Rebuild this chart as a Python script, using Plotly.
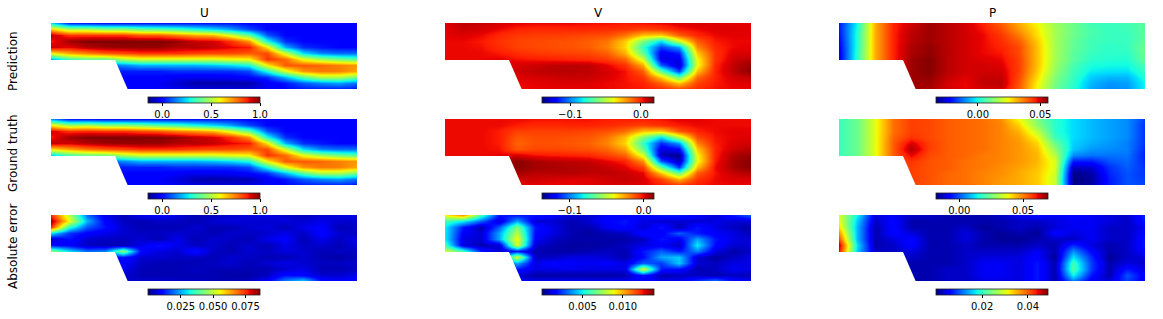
import plotly.graph_objects as go

W, H = 1163, 319

# channel geometry, in px-like domain units
GRID_X = [0, 18, 36, 54, 72, 90, 108, 126, 144, 162, 180, 198, 216, 234, 252, 270, 288, 306]
GRID_Y = [0, 6, 12, 18, 24, 30, 36, 42, 48, 54, 60, 66]
STEP_X = [-2, 64, 77.5, -2, -2]
STEP_Y = [37, 37, 68, 68, 37]

COLUMN_TITLES = ["U", "V", "P"]
ROW_TITLES = ["Prediction", "Ground truth", "Absolute error"]
ROW_TITLE_CENTERS = [61, 153, 247]

U_PRED = [
 [.25,.05,.03,.02,.02,.02,.02,.02,.02,.02,.02,0,0,0,0,0,0,0],
 [.65,.5,.5,.45,.45,.4,.38,.35,.3,.25,.18,.08,0,0,0,0,0,0],
 [.95,.85,.85,.85,.85,.8,.8,.75,.7,.68,.55,.4,.1,0,0,0,0,0],
 [.88,.97,1,1,1,1,1,.98,.93,.92,.85,.72,.3,.05,0,0,0,0],
 [.93,.9,.95,.97,.98,.98,.98,.95,.95,.93,.9,.88,.62,.2,.05,.02,0,0],
 [.6,.7,.75,.8,.82,.85,.85,.85,.83,.82,.82,.8,.82,.55,.25,.15,.12,.12],
 [.2,.35,.4,.4,.5,.55,.55,.55,.55,.55,.58,.6,.85,.78,.58,.48,.42,.38],
 [.08,.1,.12,.12,.15,.2,.2,.2,.2,.22,.25,.3,.6,.8,.8,.78,.75,.72],
 [.03,.02,.02,.02,.03,.03,.03,.05,.05,.05,.05,.08,.3,.55,.72,.76,.75,.7],
 [0,0,0,0,0,0,0,-.03,-.03,-.03,-.02,0,.05,.2,.38,.5,.5,.42],
 [0,0,0,0,0,0,-.03,-.06,-.1,-.1,-.1,-.1,-.03,.02,.1,.15,.18,.12],
 [0,0,0,0,0,0,-.02,-.03,-.05,-.05,-.05,-.05,-.02,0,.02,.03,.03,.02],
]
U_TRUE = [
 [.18,.04,.03,.02,.02,.02,.02,.02,.02,.02,.02,0,0,0,0,0,0,0],
 [.6,.48,.5,.45,.45,.42,.38,.35,.3,.25,.18,.08,0,0,0,0,0,0],
 [.92,.85,.86,.85,.85,.82,.8,.75,.72,.68,.55,.4,.1,0,0,0,0,0],
 [.88,.97,1,1,1,1,1,.98,.94,.92,.85,.72,.3,.05,0,0,0,0],
 [.94,.92,.95,.97,.98,.98,.98,.95,.95,.93,.9,.88,.62,.2,.05,.02,0,0],
 [.62,.7,.76,.8,.82,.85,.85,.85,.83,.82,.82,.8,.82,.55,.25,.15,.12,.12],
 [.24,.36,.41,.42,.5,.55,.55,.55,.55,.55,.58,.6,.85,.78,.58,.48,.42,.38],
 [.09,.1,.12,.12,.15,.2,.2,.2,.2,.22,.25,.3,.6,.8,.8,.78,.75,.72],
 [.03,.02,.02,.02,.03,.03,.03,.05,.05,.05,.05,.08,.3,.55,.72,.76,.75,.7],
 [0,0,0,0,0,0,0,-.02,-.03,-.03,-.02,0,.05,.2,.38,.5,.5,.42],
 [0,0,0,0,0,0,-.02,-.05,-.09,-.1,-.09,-.09,-.03,.02,.1,.15,.18,.12],
 [0,0,0,0,0,0,-.01,-.03,-.05,-.05,-.05,-.04,-.02,0,.02,.03,.03,.02],
]
U_ERR = [
 [.075,.05,.02,.008,.004,.008,.01,.007,.004,.005,.006,.007,.008,.006,.005,.006,.007,.008],
 [.084,.055,.026,.01,.005,.004,.005,.005,.004,.006,.007,.006,.006,.007,.006,.008,.006,.006],
 [.075,.035,.018,.012,.006,.004,.004,.004,.006,.004,.004,.006,.007,.004,.008,.01,.004,.006],
 [.03,.015,.01,.008,.006,.005,.005,.006,.005,.004,.006,.005,.006,.008,.005,.011,.006,.005],
 [.006,.012,.006,.005,.005,.006,.004,.008,.004,.006,.005,.004,.008,.01,.004,.008,.005,.008],
 [.012,.01,.005,.004,.004,.008,.012,.008,.005,.006,.004,.006,.004,.008,.005,.006,.004,.007],
 [.045,.03,.02,.022,.045,.01,.007,.006,.012,.005,.004,.006,.005,.007,.006,.004,.005,.005],
 [.02,.015,.01,.01,.012,.006,.006,.005,.005,.004,.006,.005,.004,.004,.006,.004,.003,.005],
 [.01,.01,.01,.01,.01,.005,.004,.004,.004,.005,.006,.004,.006,.008,.006,.005,.005,.006],
 [.008,.008,.008,.008,.008,.004,.004,.004,.005,.004,.004,.004,.004,.006,.008,.004,.004,.005],
 [.006,.006,.006,.006,.006,.004,.004,.004,.004,.004,.003,.003,.005,.012,.01,.006,.006,.008],
 [.006,.006,.006,.006,.006,.006,.006,.005,.005,.004,.004,.005,.01,.022,.03,.012,.01,.012],
]
V_PRED = [
 [.006,.01,.009,.007,.005,.004,.004,.004,.003,.003,.002,.003,.004,.006,.007,.006,.005,.005],
 [.005,.009,.007,.004,.001,0,0,0,0,-.001,-.002,-.005,-.003,.002,.004,.006,.006,.005],
 [.005,.006,.004,0,-.003,-.004,-.004,-.005,-.006,-.007,-.014,-.028,-.03,-.01,0,.004,.005,.005],
 [.004,.004,.002,-.002,-.005,-.006,-.007,-.008,-.01,-.014,-.03,-.06,-.085,-.045,-.01,.002,.004,.004],
 [.004,.004,.003,-.001,-.005,-.006,-.007,-.008,-.01,-.016,-.032,-.075,-.11,-.095,-.018,0,.004,.005],
 [.004,.004,.004,.002,-.001,-.003,-.004,-.005,-.006,-.01,-.025,-.065,-.125,-.115,-.03,-.002,.006,.007],
 [.004,.004,.004,.005,.003,.002,.001,0,-.001,-.004,-.012,-.045,-.125,-.125,-.038,-.002,.008,.011],
 [.004,.004,.004,.006,.007,.008,.01,.011,.01,.005,-.002,-.024,-.105,-.13,-.04,0,.01,.016],
 [.004,.004,.004,.006,.008,.01,.011,.011,.01,.007,.003,-.01,-.065,-.11,-.028,.001,.01,.018],
 [.004,.004,.004,.005,.006,.007,.008,.009,.009,.006,.003,-.003,-.03,-.065,-.012,.001,.007,.01],
 [.004,.004,.004,.004,.004,.005,.006,.006,.006,.004,.003,.001,-.01,-.028,-.005,.002,.005,.006],
 [.004,.004,.004,.004,.004,.004,.005,.005,.005,.004,.003,.002,-.001,-.006,-.001,.003,.004,.004],
]
V_TRUE = [
 [0,0,0,0,0,-.001,-.001,-.001,-.001,-.002,-.002,-.002,-.001,.001,.001,0,0,0],
 [0,0,0,0,-.002,-.004,-.004,-.003,-.003,-.004,-.006,-.008,-.005,-.002,0,0,0,0],
 [0,0,0,-.002,-.008,-.008,-.008,-.008,-.009,-.011,-.016,-.03,-.032,-.012,-.003,0,.001,.001],
 [0,0,0,-.002,-.012,-.01,-.01,-.011,-.012,-.017,-.03,-.06,-.085,-.05,-.01,-.001,.001,.002],
 [0,0,0,-.002,-.014,-.011,-.011,-.012,-.014,-.02,-.034,-.075,-.112,-.095,-.02,-.002,.002,.004],
 [0,0,0,-.001,-.012,-.009,-.009,-.01,-.011,-.015,-.025,-.065,-.125,-.118,-.032,-.003,.004,.007],
 [0,0,0,.001,.003,-.001,-.002,-.003,-.004,-.008,-.014,-.045,-.13,-.135,-.04,-.003,.008,.012],
 [0,0,0,.007,.013,.009,.007,.006,.005,.001,-.003,-.022,-.105,-.13,-.042,-.002,.009,.014],
 [0,0,0,.006,.013,.01,.009,.008,.007,.005,.001,-.008,-.065,-.11,-.03,0,.009,.014],
 [0,0,0,.004,.009,.007,.007,.007,.006,.006,.005,.001,-.03,-.065,-.013,-.001,.005,.008],
 [0,0,0,.002,.004,.004,.003,.002,.002,.004,.005,.003,-.008,-.028,-.006,0,.002,.003],
 [0,0,0,.001,.001,.001,0,0,.001,.002,.003,.001,-.002,-.006,-.002,0,0,0],
]
V_ERR = [
 [.009,.0105,.006,.002,.002,.002,.0015,.001,.001,.0015,.0015,.0015,.002,.002,.0015,.001,.002,.003],
 [.006,.005,.003,.001,.004,.001,.001,.0006,.001,.0017,.002,.0012,.001,.001,.001,.0012,.001,.001],
 [.005,.002,.0005,.003,.007,.002,.0012,.0006,.0006,.0014,.0018,.001,.002,.0006,.002,.0012,.0008,.0005],
 [.005,.0015,.001,.004,.008,.0018,.0012,.0006,.0004,.0006,.0008,.0018,.0015,.003,.002,.0015,.0012,.0006],
 [.005,.0012,.001,.004,.009,.0015,.0008,.0005,.0005,.0005,.0005,.0008,.002,.0014,.004,.002,.0012,.001],
 [.006,.0012,.0006,.001,.0085,.001,.0006,.0004,.0004,.0005,.0008,.0012,.0015,.0008,.005,.0018,.001,.001],
 [.0085,.006,.002,.001,.002,.0006,.0005,.0005,.0006,.0008,.0006,.002,.003,.002,.0035,.0012,.0005,.0008],
 [.002,.001,.001,.002,.0085,.0008,.0008,.0012,.0012,.001,.0006,.0018,.004,.0045,.001,.0004,.0008,.0012],
 [.001,.001,.001,.002,.004,.0012,.0018,.0015,.0014,.0016,.0012,.003,.0025,.0045,.001,.0008,.0012,.0012],
 [.001,.001,.001,.001,.002,.0012,.0012,.0013,.0012,.0012,.0012,.0085,.002,.0018,.0006,.0008,.0014,.0012],
 [.001,.001,.001,.001,.001,.0005,.0005,.0005,.0005,.0005,.0006,.002,.0006,.0008,.0008,.0006,.0008,.0006],
 [.001,.001,.001,.001,.0015,.0014,.0014,.0014,.0014,.0014,.0014,.0016,.0014,.0014,.0025,.0035,.0018,.0015],
]
P_PRED = [
 [-.02,0,.032,.046,.05,.054,.052,.05,.046,.04,.032,.024,.015,.01,.005,.004,.005,.008],
 [-.02,.001,.032,.046,.051,.054,.052,.05,.047,.042,.034,.026,.016,.01,.006,.004,.005,.008],
 [-.021,.002,.032,.046,.052,.054,.052,.05,.048,.044,.037,.027,.016,.01,.006,.004,.004,.008],
 [-.022,.002,.032,.046,.052,.054,.052,.05,.048,.045,.04,.029,.016,.009,.005,.004,.004,.009],
 [-.023,.002,.032,.046,.053,.055,.052,.05,.048,.046,.042,.03,.016,.009,.005,.003,.004,.01],
 [-.024,.003,.032,.046,.053,.055,.052,.05,.048,.047,.042,.03,.016,.008,.004,.003,.003,.01],
 [-.024,.003,.032,.046,.054,.056,.052,.05,.049,.048,.043,.03,.016,.008,.003,.002,.002,.009],
 [-.024,.003,.032,.046,.054,.056,.052,.05,.05,.049,.043,.03,.015,.006,.001,0,0,.006],
 [-.024,.003,.032,.046,.054,.056,.052,.05,.05,.05,.043,.029,.014,.005,-.001,-.002,-.002,.004],
 [-.024,.003,.032,.046,.054,.055,.051,.049,.051,.051,.042,.027,.012,.004,-.004,-.006,-.006,.002],
 [-.024,.003,.032,.046,.054,.054,.05,.048,.051,.052,.041,.025,.011,.003,-.006,-.009,-.008,0],
 [-.024,.003,.032,.046,.054,.053,.05,.048,.05,.05,.04,.024,.01,.002,-.007,-.01,-.009,0],
]
P_TRUE = [
 [.019,.024,.037,.052,.057,.056,.054,.053,.052,.049,.038,.026,.017,.012,.009,.007,.005,-.002],
 [.019,.024,.037,.052,.057,.056,.054,.053,.052,.05,.042,.028,.017,.012,.009,.007,.005,-.003],
 [.019,.024,.037,.052,.057,.056,.054,.053,.052,.05,.045,.033,.017,.012,.009,.007,.005,-.003],
 [.019,.024,.037,.053,.058,.056,.054,.053,.052,.05,.047,.038,.019,.012,.009,.007,.005,-.003],
 [.019,.024,.037,.054,.063,.057,.054,.053,.052,.05,.048,.042,.024,.011,.008,.006,.004,-.003],
 [.019,.024,.037,.054,.066,.057,.054,.053,.052,.05,.048,.044,.028,.01,.006,.005,.004,-.004],
 [.019,.024,.037,.054,.062,.056,.054,.053,.051,.05,.048,.045,.032,.005,.003,.003,.003,-.005],
 [.019,.024,.037,.054,.058,.055,.054,.052,.051,.05,.048,.045,.036,-.005,-.005,0,.002,-.004],
 [.019,.024,.037,.054,.057,.055,.054,.052,.051,.049,.047,.044,.036,-.013,-.012,-.003,.001,-.003],
 [.019,.024,.037,.054,.057,.055,.053,.052,.05,.049,.046,.043,.035,-.017,-.015,-.004,0,-.003],
 [.019,.024,.037,.054,.057,.055,.053,.052,.05,.048,.046,.043,.034,-.018,-.016,-.005,0,-.002],
 [.019,.024,.037,.054,.056,.055,.053,.052,.05,.048,.046,.043,.034,-.017,-.015,-.005,0,-.001],
]
P_ERR = [
 [.03,.018,.004,.005,.003,.003,.002,.002,.002,.003,.005,.006,.005,.006,.005,.004,.003,.008],
 [.031,.016,.003,.006,.002,.002,.002,.002,.002,.002,.003,.003,.004,.005,.005,.004,.003,.007],
 [.033,.015,.002,.006,.002,.002,.002,.003,.001,.002,.003,.002,.004,.005,.005,.003,.003,.005],
 [.037,.015,.002,.006,.004,.002,.002,.004,.002,.001,.002,.001,.006,.004,.005,.003,.003,.006],
 [.041,.015,.002,.004,.006,.002,.002,.004,.002,.001,.001,.002,.003,.003,.005,.003,.003,.007],
 [.046,.017,.002,.003,.006,.002,.002,.003,.002,.002,.002,.003,.002,.008,.004,.002,.003,.007],
 [.044,.016,.003,.003,.004,.002,.002,.003,.003,.003,.003,.005,.002,.013,.006,.002,.003,.006],
 [.04,.015,.003,.003,.003,.002,.002,.003,.004,.004,.004,.006,.001,.017,.008,.001,.003,.004],
 [.03,.01,.003,.003,.002,.002,.002,.003,.005,.005,.004,.007,.002,.021,.009,.002,.004,.003],
 [.02,.008,.003,.003,.002,.002,.003,.003,.005,.005,.004,.007,.002,.022,.009,.002,.007,.004],
 [.02,.008,.003,.003,.002,.002,.003,.003,.005,.005,.004,.007,.002,.018,.007,.002,.01,.005],
 [.02,.008,.003,.003,.002,.002,.003,.003,.004,.004,.004,.007,.002,.012,.005,.004,.009,.005],
]

PANELS = [[U_PRED, V_PRED, P_PRED], [U_TRUE, V_TRUE, P_TRUE], [U_ERR, V_ERR, P_ERR]]
RANGES = [
    [(-.143, 1.003), (-.1394, .0189), (-.0333, .0564)],
    [(-.143, 1.003), (-.1369, .0144), (-.018, .0698)],
    [(0, .0864), (0, .0139), (0, .0489)],
]
TICKS = [
    [[0, .5, 1], [-.1, 0], [0, .05]],
    [[0, .5, 1], [-.1, 0], [0, .05]],
    [[.025, .05, .075], [.005, .01], [.02, .04]],
]
TICK_TEXT = [
    [["0.0", "0.5", "1.0"], ["\u22120.1", "0.0"], ["0.00", "0.05"]],
    [["0.0", "0.5", "1.0"], ["\u22120.1", "0.0"], ["0.00", "0.05"]],
    [["0.025", "0.050", "0.075"], ["0.005", "0.010"], ["0.02", "0.04"]],
]

JET = [
    [0, "rgb(0,0,128)"], [.11, "rgb(0,0,255)"], [.125, "rgb(0,0,255)"],
    [.34, "rgb(0,219,255)"], [.35, "rgb(0,229,247)"], [.375, "rgb(20,255,226)"],
    [.64, "rgb(238,255,8)"], [.65, "rgb(246,244,0)"], [.66, "rgb(255,233,0)"],
    [.89, "rgb(255,29,0)"], [.91, "rgb(231,0,0)"], [1, "rgb(128,0,0)"],
]

COL_LEFT = [51, 445, 839]
PANEL_W = 306
ROW_TOP = [23, 119, 215]
PANEL_H = 66
CB_LEFT = [148.3, 542.3, 936.3]
CB_TOP = [97, 193, 289]
CB_W = 112
FONT = "DejaVu Sans"

fig = go.Figure()
layout = {}
n = 0
for r in range(3):
    for c in range(3):
        n += 1
        sfx = "" if n == 1 else str(n)
        left, top = COL_LEFT[c], ROW_TOP[r]
        layout["xaxis" + sfx] = dict(domain=[left / W, (left + PANEL_W) / W], range=[0, 306],
                                     visible=False, anchor="y" + sfx)
        layout["yaxis" + sfx] = dict(domain=[1 - (top + PANEL_H) / H, 1 - top / H], range=[66, 0],
                                     visible=False, anchor="x" + sfx)
        zmin, zmax = RANGES[r][c]
        fig.add_trace(go.Heatmap(
            z=PANELS[r][c], x=GRID_X, y=GRID_Y, xaxis="x" + sfx, yaxis="y" + sfx,
            zmin=zmin, zmax=zmax, zsmooth="best", colorscale=JET, hoverinfo="skip",
            colorbar=dict(
                orientation="h", thickness=6, thicknessmode="pixels", len=CB_W, lenmode="pixels",
                x=CB_LEFT[c] / W, xanchor="left", xpad=0, y=1 - CB_TOP[r] / H, yanchor="top", ypad=0,
                tickmode="array", tickvals=TICKS[r][c], ticktext=TICK_TEXT[r][c],
                ticks="outside", ticklen=3.5, tickwidth=0.8, tickcolor="#000",
                tickfont=dict(family=FONT, size=10, color="#000"),
                outlinewidth=0.8, outlinecolor="#222", borderwidth=0,
            ),
        ))
        fig.add_trace(go.Scatter(
            x=STEP_X, y=STEP_Y, xaxis="x" + sfx, yaxis="y" + sfx, mode="lines", fill="toself",
            fillcolor="#fff", line=dict(width=0, color="#fff"), hoverinfo="skip", showlegend=False,
            cliponaxis=False,
        ))

annotations = []
for c, t in enumerate(COLUMN_TITLES):
    annotations.append(dict(text=t, x=(COL_LEFT[c] + PANEL_W / 2) / W, y=1 - 12.5 / H, xref="paper", yref="paper",
                            xanchor="center", yanchor="middle", showarrow=False,
                            font=dict(family=FONT, size=12, color="#000")))
for r, t in enumerate(ROW_TITLES):
    annotations.append(dict(text=t, x=13 / W, y=1 - ROW_TITLE_CENTERS[r] / H, xref="paper", yref="paper",
                            xanchor="center", yanchor="middle", textangle=-90, showarrow=False,
                            font=dict(family=FONT, size=12, color="#000")))

fig.update_layout(width=W, height=H, margin=dict(l=0, r=0, t=0, b=0), paper_bgcolor="#fff",
                  plot_bgcolor="#fff", showlegend=False, annotations=annotations, **layout)
fig.write_html("out.html", config={"displayModeBar": False}, post_script="document.body.style.margin='0';")
